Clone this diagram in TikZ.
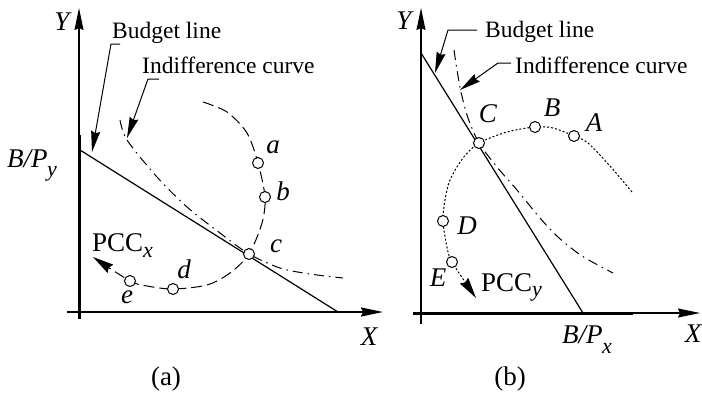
\documentclass[tikz,border=0pt]{standalone}
\usepackage{fontspec}
\setmainfont{Liberation Serif}
\usetikzlibrary{arrows.meta}
\newcommand\lowsub[2]{\raisebox{-#1}{\fontsize{22}{22}\selectfont\itshape #2}}
\begin{document}
\begin{tikzpicture}[x=1pt,y=-1pt,
 axisline/.style={line width=1.3pt, -{Stealth[length=22pt,width=9pt,inset=2pt]}},
 heavy/.style={line width=3pt},
 budgetline/.style={line width=1.2pt},
 pccxline/.style={line width=1pt, dash pattern=on 11pt off 5pt, -{Stealth[length=21pt,width=10pt,inset=2pt]}},
 pccyline/.style={line width=1pt, dash pattern=on 2pt off 2pt, -{Stealth[length=21pt,width=10pt,inset=2pt]}},
 indiffline/.style={line width=1pt, dash pattern=on 10pt off 5pt on 1.5pt off 5pt},
 leader/.style={line width=1pt, -{Stealth[length=21pt,width=9pt,inset=2pt]}},
 dotpt/.style={circle, draw, fill=white, inner sep=0pt, minimum size=11pt, line width=1pt},
 txt/.style={font=\fontsize{23.5}{26}\selectfont, inner sep=0pt, anchor=base west},
 lab/.style={font=\fontsize{27}{30}\selectfont\itshape, inner sep=0pt},
 capt/.style={font=\fontsize{27}{30}\selectfont, inner sep=0pt},
]
\useasboundingbox (0,0) rectangle (702,397);

% ---------------- panel (a) ----------------
\coordinate (ay0) at (79,319);
\coordinate (ay1) at (79,8);
\coordinate (ayh) at (79,135);
\coordinate (ax0) at (67,312);
\coordinate (ax1) at (383,312);
\draw[axisline] (ay0) -- (ay1);
\draw[heavy] (ay0) -- (ayh);
\draw[axisline, line width=1.8pt] (ax0) -- (ax1);
\node[lab] (aY) at (62,22) {Y};
\node[lab] (aX) at (369,337) {X};

\coordinate (ab0) at (80,150);
\coordinate (ab1) at (338,312);
\draw[budgetline] (ab0) -- (ab1);
\node[lab, anchor=base west] (aBP) at (7,167) {B/P\kern-0.5pt\lowsub{9pt}{y}};

\coordinate (pa) at (258,163);
\coordinate (pb) at (265,197);
\coordinate (pc) at (249,254);
\coordinate (pd) at (173,289);
\coordinate (pe) at (130,281);
\coordinate (pxend) at (93,257);

\draw[indiffline] plot[smooth] coordinates {(120,120) (127,140) (157,177) (187,207) (220,233) (pc) (280,268) (310,274) (343,278)};
\draw[pccxline] plot[smooth] coordinates {(203,102) (227,112) (247,133) (pa) (pb) (262,223) (pc) (230,273) (207,285) (pd) (147,286) (pe) (pxend)};

\node[dotpt] (na) at (pa) {};
\node[dotpt] (nb) at (pb) {};
\node[dotpt] (nc) at (pc) {};
\node[dotpt] (nd) at (pd) {};
\node[dotpt] (ne) at (pe) {};
\node[lab] (la) at (273,147) {a};
\node[lab] (lb) at (283,191) {b};
\node[lab] (lc) at (276,246) {c};
\node[lab] (ld) at (184,269) {d};
\node[lab] (le) at (127,297) {e};
\node[lab, font=\fontsize{27}{30}\selectfont, anchor=base west] (pccx) at (92,251) {PCC\lowsub{6pt}{x}};

\node[txt] (abl) at (112,38) {Budget line};
\coordinate (abl0) at (120,44);
\coordinate (abl1) at (111,44);
\coordinate (abl2) at (92,152);
\draw[leader] (abl0) -- (abl1) -- (abl2);
\node[txt] (aic) at (142,73) {Indifference curve};
\coordinate (aic0) at (159,79);
\coordinate (aic1) at (148,79);
\coordinate (aic2) at (127,138);
\draw[leader] (aic0) -- (aic1) -- (aic2);

\node[capt] (capa) at (166,379) {(a)};

% ---------------- panel (b) ----------------
\coordinate (by0) at (421,324);
\coordinate (by1) at (421,8);
\coordinate (bx0) at (413,313);
\coordinate (bx1) at (700,313);
\coordinate (bxh) at (633,313);
\draw[axisline] (by0) -- (by1);
\draw[axisline] (bx0) -- (bx1);
\draw[heavy] (bx0) -- (bxh);
\node[lab] (bY) at (404,21) {Y};
\node[lab] (bX) at (693,334) {X};

\coordinate (bb0) at (421,53);
\coordinate (bb1) at (583,313);
\draw[budgetline] (bb0) -- (bb1);
\node[lab, anchor=base west] (bBP) at (562,343) {B/P\kern-0.5pt\lowsub{10pt}{x}};

\coordinate (qA) at (574,136);
\coordinate (qB) at (535,127);
\coordinate (qC) at (479,143);
\coordinate (qD) at (443,221);
\coordinate (qE) at (452,262);
\coordinate (qyend) at (476,298);

\draw[indiffline] plot[smooth] coordinates {(454,50) (457,70) (461,92) (468,118) (qC) (497,167) (517,190) (540,218) (558,237) (582,256) (613,273)};
\draw[pccyline] plot[smooth] coordinates {(632,192) (610,166) (588,143) (qA) (553,128) (qB) (507,132) (qC) (463,158) (450,180) (445,200) (qD) (447,247) (qE) (qyend)};

\node[dotpt] (nA) at (qA) {};
\node[dotpt] (nB) at (qB) {};
\node[dotpt] (nC) at (qC) {};
\node[dotpt] (nD) at (qD) {};
\node[dotpt] (nE) at (qE) {};
\node[lab] (lA) at (594,123) {A};
\node[lab] (lB) at (552,108) {B};
\node[lab] (lC) at (488,114) {C};
\node[lab] (lD) at (467,226) {D};
\node[lab] (lE) at (438,278) {E};
\node[lab, font=\fontsize{27}{30}\selectfont, anchor=base west] (pccy) at (481,291) {PCC\lowsub{5pt}{y}};

\node[txt] (bbl) at (485,37) {Budget line};
\coordinate (bbl0) at (477,30);
\coordinate (bbl1) at (448,30);
\coordinate (bbl2) at (435,73);
\draw[leader] (bbl0) -- (bbl1) -- (bbl2);
\node[txt] (bic) at (515,73) {Indifference curve};
\coordinate (bic0) at (511,63);
\coordinate (bic1) at (498,63);
\coordinate (bic2) at (460,90);
\draw[leader] (bic0) -- (bic1) -- (bic2);

\node[capt] (capb) at (510,379) {(b)};
\end{tikzpicture}
\end{document}
